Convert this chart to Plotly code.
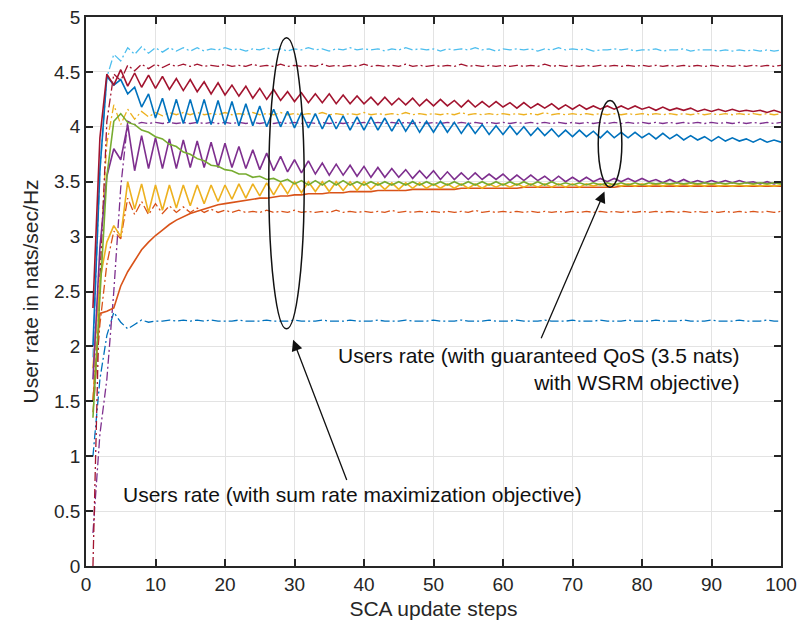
import plotly.graph_objects as go

# ---------------- data ----------------
steps = list(range(1, 101))

# WSRM objective with guaranteed QoS (solid)
wsrm_darkred = [2.35, 3.90, 4.48, 4.38, 4.52, 4.37, 4.49, 4.36, 4.47, 4.35,
 4.46, 4.34, 4.44, 4.33, 4.43, 4.32, 4.41, 4.30, 4.40, 4.29,
 4.38, 4.28, 4.37, 4.26, 4.35, 4.25, 4.34, 4.24, 4.32, 4.23,
 4.31, 4.22, 4.30, 4.22, 4.30, 4.21, 4.29, 4.21, 4.28, 4.21,
 4.27, 4.20, 4.27, 4.20, 4.26, 4.20, 4.26, 4.19, 4.25, 4.19,
 4.25, 4.19, 4.24, 4.18, 4.24, 4.18, 4.23, 4.18, 4.23, 4.18,
 4.22, 4.17, 4.22, 4.17, 4.21, 4.17, 4.21, 4.16, 4.20, 4.16,
 4.20, 4.16, 4.19, 4.16, 4.19, 4.16, 4.19, 4.16, 4.19, 4.16,
 4.18, 4.15, 4.18, 4.15, 4.17, 4.15, 4.17, 4.14, 4.16, 4.14,
 4.16, 4.14, 4.16, 4.14, 4.15, 4.14, 4.15, 4.13, 4.15, 4.13]
wsrm_blue = [2.00, 3.60, 4.46, 4.38, 4.43, 4.30, 4.36, 4.18, 4.30, 4.08,
 4.26, 4.04, 4.25, 4.03, 4.25, 4.03, 4.25, 4.02, 4.24, 4.02,
 4.23, 4.01, 4.21, 4.01, 4.19, 4.00, 4.16, 4.00, 4.14, 3.99,
 4.13, 3.99, 4.12, 3.98, 4.11, 3.98, 4.10, 3.97, 4.09, 3.97,
 4.09, 3.97, 4.08, 3.96, 4.07, 3.96, 4.06, 3.95, 4.05, 3.95,
 4.05, 3.95, 4.04, 3.94, 4.03, 3.94, 4.02, 3.93, 4.01, 3.93,
 4.01, 3.93, 4.00, 3.92, 3.99, 3.92, 3.98, 3.91, 3.97, 3.91,
 3.97, 3.91, 3.96, 3.90, 3.96, 3.90, 3.95, 3.90, 3.95, 3.90,
 3.94, 3.89, 3.94, 3.89, 3.93, 3.88, 3.92, 3.88, 3.91, 3.87,
 3.91, 3.87, 3.90, 3.87, 3.89, 3.86, 3.89, 3.86, 3.88, 3.86]
wsrm_purple = [1.70, 2.90, 3.55, 3.80, 3.70, 4.02, 3.60, 3.92, 3.62, 3.90,
 3.62, 3.89, 3.62, 3.88, 3.63, 3.87, 3.63, 3.86, 3.63, 3.85,
 3.63, 3.82, 3.62, 3.79, 3.61, 3.76, 3.60, 3.73, 3.59, 3.70,
 3.58, 3.69, 3.57, 3.67, 3.56, 3.66, 3.56, 3.65, 3.55, 3.64,
 3.54, 3.63, 3.54, 3.62, 3.54, 3.61, 3.53, 3.60, 3.53, 3.60,
 3.52, 3.59, 3.52, 3.58, 3.52, 3.58, 3.52, 3.57, 3.52, 3.57,
 3.51, 3.56, 3.51, 3.56, 3.51, 3.55, 3.50, 3.55, 3.50, 3.54,
 3.50, 3.54, 3.50, 3.53, 3.50, 3.53, 3.50, 3.53, 3.50, 3.53,
 3.50, 3.52, 3.49, 3.52, 3.49, 3.52, 3.49, 3.51, 3.49, 3.51,
 3.49, 3.51, 3.49, 3.51, 3.49, 3.50, 3.48, 3.50, 3.48, 3.50]
wsrm_green = [1.35, 2.40, 3.55, 4.05, 4.12, 4.04, 4.02, 3.97, 3.95, 3.91,
 3.89, 3.84, 3.82, 3.77, 3.75, 3.71, 3.69, 3.65, 3.64, 3.61,
 3.60, 3.57, 3.57, 3.54, 3.55, 3.52, 3.53, 3.50, 3.52, 3.48,
 3.51, 3.47, 3.51, 3.47, 3.51, 3.47, 3.51, 3.47, 3.50, 3.47,
 3.50, 3.47, 3.50, 3.47, 3.50, 3.47, 3.50, 3.47, 3.50, 3.47,
 3.50, 3.47, 3.50, 3.47, 3.50, 3.47, 3.50, 3.47, 3.50, 3.47,
 3.50, 3.47, 3.50, 3.47, 3.50, 3.47, 3.50, 3.47, 3.49, 3.47,
 3.49, 3.47, 3.49, 3.47, 3.49, 3.47, 3.49, 3.47, 3.49, 3.47,
 3.49, 3.48, 3.49, 3.48, 3.49, 3.48, 3.49, 3.48, 3.49, 3.48,
 3.49, 3.48, 3.49, 3.48, 3.49, 3.48, 3.49, 3.48, 3.49, 3.48]
wsrm_yellow = [1.80, 2.60, 2.95, 3.10, 3.00, 3.50, 3.25, 3.48, 3.22, 3.47,
 3.24, 3.47, 3.26, 3.47, 3.28, 3.47, 3.30, 3.47, 3.32, 3.47,
 3.34, 3.48, 3.35, 3.48, 3.37, 3.49, 3.38, 3.49, 3.39, 3.50,
 3.40, 3.50, 3.41, 3.50, 3.41, 3.50, 3.42, 3.50, 3.42, 3.50,
 3.43, 3.49, 3.43, 3.49, 3.43, 3.49, 3.44, 3.49, 3.44, 3.48,
 3.44, 3.48, 3.44, 3.48, 3.44, 3.48, 3.44, 3.48, 3.45, 3.48,
 3.45, 3.48, 3.45, 3.48, 3.45, 3.48, 3.45, 3.48, 3.45, 3.48,
 3.45, 3.48, 3.46, 3.48, 3.46, 3.48, 3.46, 3.48, 3.46, 3.48,
 3.46, 3.48, 3.46, 3.48, 3.46, 3.48, 3.46, 3.48, 3.46, 3.48,
 3.46, 3.47, 3.46, 3.47, 3.46, 3.47, 3.46, 3.47, 3.46, 3.47]
wsrm_orange = [1.50, 2.30, 2.32, 2.35, 2.55, 2.68, 2.78, 2.88, 2.95, 3.01,
 3.06, 3.11, 3.15, 3.18, 3.21, 3.23, 3.25, 3.27, 3.29, 3.30,
 3.31, 3.32, 3.33, 3.34, 3.35, 3.35, 3.36, 3.37, 3.37, 3.38,
 3.38, 3.39, 3.39, 3.39, 3.40, 3.40, 3.40, 3.41, 3.41, 3.41,
 3.41, 3.42, 3.42, 3.42, 3.42, 3.42, 3.43, 3.43, 3.43, 3.43,
 3.43, 3.43, 3.43, 3.44, 3.44, 3.44, 3.44, 3.44, 3.44, 3.44,
 3.44, 3.44, 3.45, 3.45, 3.45, 3.45, 3.45, 3.45, 3.45, 3.45,
 3.45, 3.45, 3.45, 3.45, 3.45, 3.45, 3.46, 3.46, 3.46, 3.46,
 3.46, 3.46, 3.46, 3.46, 3.46, 3.46, 3.46, 3.46, 3.46, 3.46,
 3.46, 3.46, 3.46, 3.46, 3.46, 3.46, 3.46, 3.46, 3.46, 3.46]

# Sum-rate maximization objective (dash-dot)
srm_lightblue = [1.90, 3.60, 4.45, 4.66, 4.60, 4.72, 4.66, 4.73, 4.67, 4.72,
 4.68, 4.72, 4.69, 4.72, 4.69, 4.72, 4.69, 4.71, 4.70, 4.72,
 4.70, 4.71, 4.69, 4.71, 4.70, 4.72, 4.70, 4.71, 4.69, 4.71,
 4.70, 4.72, 4.70, 4.71, 4.69, 4.71, 4.70, 4.72, 4.70, 4.71,
 4.70, 4.71, 4.69, 4.71, 4.70, 4.72, 4.70, 4.71, 4.70, 4.71,
 4.69, 4.71, 4.70, 4.71, 4.70, 4.72, 4.70, 4.71, 4.69, 4.71,
 4.70, 4.71, 4.70, 4.71, 4.69, 4.71, 4.70, 4.72, 4.70, 4.71,
 4.70, 4.71, 4.69, 4.70, 4.70, 4.71, 4.70, 4.71, 4.69, 4.70,
 4.70, 4.71, 4.69, 4.70, 4.70, 4.71, 4.69, 4.70, 4.70, 4.70,
 4.69, 4.70, 4.69, 4.70, 4.69, 4.70, 4.69, 4.70, 4.69, 4.70]
srm_darkred = [0.00, 2.60, 4.05, 4.48, 4.42, 4.56, 4.51, 4.57, 4.53, 4.57,
 4.54, 4.57, 4.55, 4.57, 4.55, 4.57, 4.55, 4.56, 4.55, 4.57,
 4.55, 4.56, 4.55, 4.57, 4.55, 4.56, 4.55, 4.57, 4.55, 4.56,
 4.55, 4.56, 4.55, 4.57, 4.55, 4.56, 4.55, 4.56, 4.55, 4.57,
 4.55, 4.56, 4.55, 4.56, 4.55, 4.57, 4.55, 4.56, 4.55, 4.56,
 4.55, 4.56, 4.55, 4.57, 4.55, 4.56, 4.55, 4.56, 4.55, 4.56,
 4.55, 4.56, 4.55, 4.56, 4.55, 4.57, 4.55, 4.56, 4.55, 4.56,
 4.55, 4.56, 4.55, 4.56, 4.55, 4.56, 4.55, 4.56, 4.55, 4.56,
 4.55, 4.56, 4.55, 4.56, 4.55, 4.56, 4.55, 4.56, 4.55, 4.56,
 4.55, 4.56, 4.55, 4.56, 4.55, 4.56, 4.55, 4.56, 4.55, 4.56]
srm_yellow = [1.50, 2.80, 3.85, 4.20, 4.02, 4.16, 4.07, 4.14, 4.09, 4.13,
 4.10, 4.13, 4.11, 4.13, 4.11, 4.13, 4.11, 4.12, 4.11, 4.13,
 4.11, 4.12, 4.11, 4.13, 4.11, 4.12, 4.11, 4.13, 4.11, 4.12,
 4.11, 4.12, 4.11, 4.13, 4.11, 4.12, 4.11, 4.12, 4.11, 4.13,
 4.11, 4.12, 4.11, 4.12, 4.11, 4.13, 4.11, 4.12, 4.11, 4.12,
 4.11, 4.12, 4.11, 4.13, 4.11, 4.12, 4.11, 4.12, 4.11, 4.12,
 4.11, 4.12, 4.11, 4.12, 4.11, 4.13, 4.11, 4.12, 4.11, 4.12,
 4.11, 4.12, 4.11, 4.12, 4.11, 4.12, 4.11, 4.12, 4.11, 4.12,
 4.11, 4.12, 4.11, 4.12, 4.11, 4.12, 4.11, 4.12, 4.11, 4.12,
 4.11, 4.12, 4.11, 4.12, 4.11, 4.12, 4.11, 4.12, 4.11, 4.12]
srm_purple = [0.30, 1.20, 1.70, 2.50, 3.45, 4.05, 4.02, 4.04, 4.03, 4.04,
 4.03, 4.04, 4.03, 4.04, 4.03, 4.04, 4.03, 4.04, 4.03, 4.04,
 4.03, 4.04, 4.03, 4.04, 4.03, 4.04, 4.03, 4.04, 4.03, 4.04,
 4.03, 4.04, 4.03, 4.04, 4.03, 4.04, 4.03, 4.04, 4.03, 4.04,
 4.03, 4.04, 4.03, 4.04, 4.03, 4.04, 4.03, 4.04, 4.03, 4.04,
 4.03, 4.04, 4.03, 4.04, 4.03, 4.04, 4.03, 4.04, 4.03, 4.04,
 4.03, 4.04, 4.03, 4.04, 4.03, 4.04, 4.03, 4.04, 4.03, 4.04,
 4.03, 4.04, 4.03, 4.04, 4.03, 4.04, 4.03, 4.04, 4.03, 4.04,
 4.03, 4.04, 4.03, 4.04, 4.03, 4.04, 4.03, 4.04, 4.03, 4.04,
 4.03, 4.04, 4.03, 4.04, 4.03, 4.04, 4.03, 4.04, 4.03, 4.04]
srm_orange = [1.40, 2.20, 2.75, 3.05, 2.98, 3.35, 3.20, 3.32, 3.20, 3.30,
 3.21, 3.28, 3.22, 3.27, 3.22, 3.26, 3.22, 3.25, 3.22, 3.24,
 3.22, 3.24, 3.22, 3.23, 3.22, 3.24, 3.22, 3.23, 3.22, 3.24,
 3.22, 3.23, 3.22, 3.23, 3.22, 3.24, 3.22, 3.23, 3.22, 3.23,
 3.22, 3.23, 3.22, 3.24, 3.22, 3.23, 3.22, 3.23, 3.22, 3.23,
 3.22, 3.23, 3.22, 3.23, 3.22, 3.24, 3.22, 3.23, 3.22, 3.23,
 3.22, 3.23, 3.22, 3.23, 3.22, 3.23, 3.22, 3.23, 3.22, 3.23,
 3.22, 3.23, 3.22, 3.23, 3.22, 3.23, 3.22, 3.23, 3.22, 3.23,
 3.22, 3.23, 3.22, 3.23, 3.22, 3.23, 3.22, 3.23, 3.22, 3.23,
 3.22, 3.23, 3.22, 3.23, 3.22, 3.23, 3.22, 3.23, 3.22, 3.23]
srm_blue = [1.00, 1.70, 2.10, 2.31, 2.22, 2.16, 2.20, 2.24, 2.22, 2.23,
 2.23, 2.24, 2.23, 2.24, 2.23, 2.24, 2.23, 2.24, 2.23, 2.23,
 2.23, 2.24, 2.23, 2.23, 2.23, 2.24, 2.23, 2.23, 2.23, 2.24,
 2.23, 2.23, 2.23, 2.24, 2.23, 2.23, 2.23, 2.24, 2.23, 2.23,
 2.23, 2.24, 2.23, 2.23, 2.23, 2.24, 2.23, 2.23, 2.23, 2.24,
 2.23, 2.23, 2.23, 2.24, 2.23, 2.23, 2.23, 2.24, 2.23, 2.23,
 2.23, 2.24, 2.23, 2.23, 2.23, 2.24, 2.23, 2.23, 2.23, 2.24,
 2.23, 2.23, 2.23, 2.24, 2.23, 2.23, 2.23, 2.24, 2.23, 2.23,
 2.23, 2.24, 2.23, 2.23, 2.23, 2.24, 2.23, 2.23, 2.23, 2.24,
 2.23, 2.23, 2.23, 2.24, 2.23, 2.23, 2.23, 2.24, 2.23, 2.23]

x_ticks = [0, 10, 20, 30, 40, 50, 60, 70, 80, 90, 100]
y_ticks = [0, 0.5, 1, 1.5, 2, 2.5, 3, 3.5, 4, 4.5, 5]
y_tick_text = ["0", "0.5", "1", "1.5", "2", "2.5", "3", "3.5", "4", "4.5", "5"]

# ---------------- figure ----------------
C_BLUE, C_ORANGE, C_YELLOW = "#0072BD", "#D95319", "#EDB120"
C_PURPLE, C_GREEN, C_LBLUE, C_DRED = "#7E2F8E", "#77AC30", "#4DBEEE", "#A2142F"
DASHDOT = "9px,3px,2px,3px"

fig = go.Figure()
dashdot_series = [
    (srm_blue, C_BLUE), (srm_orange, C_ORANGE), (srm_yellow, C_YELLOW),
    (srm_purple, C_PURPLE), (srm_lightblue, C_LBLUE), (srm_darkred, C_DRED),
]
for ys, col in dashdot_series:
    fig.add_trace(go.Scatter(x=steps, y=ys, mode="lines",
                             line=dict(color=col, width=1.3, dash=DASHDOT),
                             showlegend=False, hoverinfo="skip"))
solid_series = [
    (wsrm_blue, C_BLUE), (wsrm_orange, C_ORANGE), (wsrm_yellow, C_YELLOW),
    (wsrm_purple, C_PURPLE), (wsrm_green, C_GREEN), (wsrm_darkred, C_DRED),
]
for ys, col in solid_series:
    fig.add_trace(go.Scatter(x=steps, y=ys, mode="lines",
                             line=dict(color=col, width=1.6),
                             showlegend=False, hoverinfo="skip"))

FONT = "Liberation Sans, Arial, sans-serif"
TXT = "#262626"

# ellipses
fig.add_shape(type="circle", xref="x", yref="y", x0=26.3, x1=31.4, y0=2.16, y1=4.81,
              line=dict(color="#111111", width=1.5))
fig.add_shape(type="circle", xref="x", yref="y", x0=73.7, x1=77.1, y0=3.45, y1=4.24,
              line=dict(color="#111111", width=1.5))

# arrows
fig.add_annotation(x=29.8, y=2.06, ax=37.6, ay=0.77, xref="x", yref="y",
                   axref="x", ayref="y", text="", showarrow=True,
                   arrowhead=2, arrowsize=1.7, arrowwidth=1.3, arrowcolor="#111111")
fig.add_annotation(x=74.6, y=3.41, ax=65.4, ay=2.06, xref="x", yref="y",
                   axref="x", ayref="y", text="", showarrow=True,
                   arrowhead=2, arrowsize=1.7, arrowwidth=1.3, arrowcolor="#111111")

# texts
fig.add_annotation(x=38.3, y=0.65, xref="x", yref="y", showarrow=False,
                   text="Users rate (with sum rate maximization objective)",
                   font=dict(family=FONT, size=21, color="#111111"))
fig.add_annotation(x=94.4, y=1.79, xref="x", yref="y", showarrow=False,
                   xanchor="right", align="right",
                   text="Users rate (with guaranteed QoS (3.5 nats)<br>with WSRM objective)",
                   font=dict(family=FONT, size=21, color="#111111"))

axis_common = dict(showline=True, linecolor="#262626", linewidth=1.5, mirror="ticks",
                   ticks="inside", ticklen=7, tickwidth=1.5, tickcolor="#262626",
                   showgrid=True, gridcolor="#e3e3e3", gridwidth=1, zeroline=False,
                   ticklabeloverflow="allow",
                   tickfont=dict(family=FONT, size=19, color=TXT))

fig.update_xaxes(range=[0, 100], tickvals=x_ticks, ticktext=[str(v) for v in x_ticks],
                 title=dict(text="SCA update steps", font=dict(family=FONT, size=21, color=TXT),
                            standoff=8),
                 **axis_common)
fig.update_yaxes(range=[0, 5], tickvals=y_ticks, ticktext=y_tick_text,
                 title=dict(text="User rate in nats/sec/Hz", font=dict(family=FONT, size=21, color=TXT),
                            standoff=10),
                 **axis_common)

fig.update_layout(width=798, height=632, plot_bgcolor="white", paper_bgcolor="white",
                  margin=dict(l=86, r=17, t=17, b=66, autoexpand=False),
                  font=dict(family=FONT))

# remove the browser's default 8px body margin so the figure fills the window exactly
fig.write_html("out.html", config={"displayModeBar": False},
               post_script="document.body.style.margin='0';document.body.style.overflow='hidden';")
